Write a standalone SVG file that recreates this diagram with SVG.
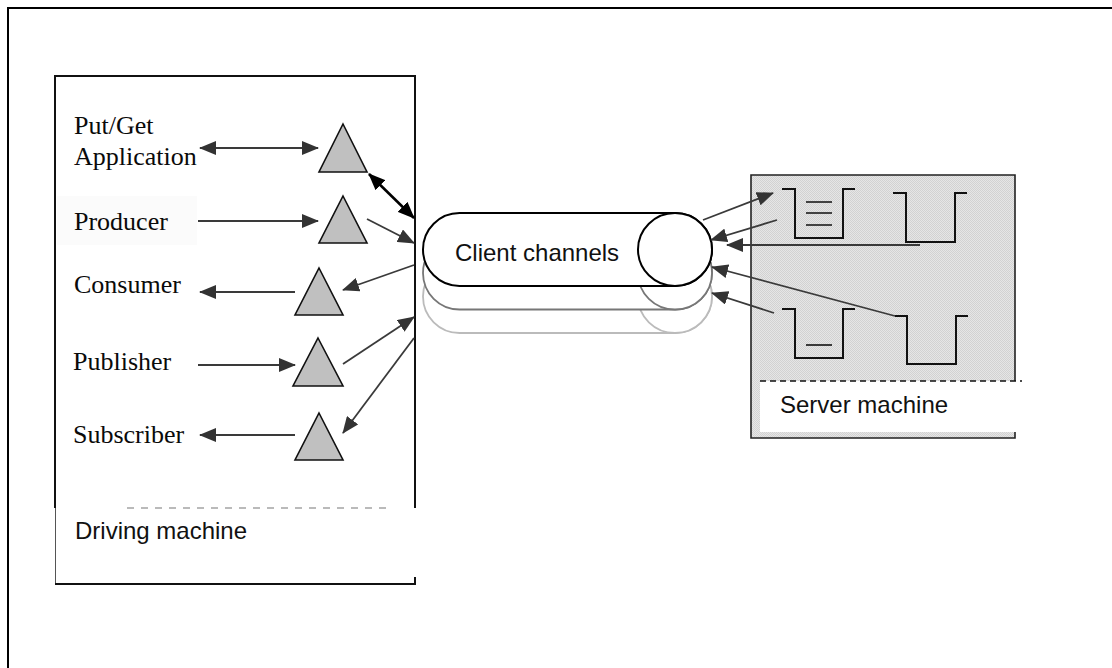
<svg xmlns="http://www.w3.org/2000/svg" width="1112" height="668" viewBox="0 0 1112 668">
  <style>
    .serif { font-family: "Liberation Serif", "Times New Roman", serif; font-size: 26px; fill: #0a0a0a; }
    .sans { font-family: "Liberation Sans", Arial, sans-serif; font-size: 24px; fill: #111; }
    .tri { fill: #c0c0c0; stroke: #111; stroke-width: 1.6; stroke-linejoin: miter; }
    .arr { fill: none; stroke: #3a3a3a; stroke-width: 1.8; marker-end: url(#head); }
    .arr2 { fill: none; stroke: #3a3a3a; stroke-width: 1.8; marker-start: url(#head); marker-end: url(#head); }
    .bold2 { fill: none; stroke: #000; stroke-width: 2.6; marker-start: url(#headBlack); marker-end: url(#headBlack); }
    .queue { fill: none; stroke: #111; stroke-width: 2; }
    .fill-line { stroke: #111; stroke-width: 1.6; }
  </style>
  <defs>
    <marker id="head" markerUnits="userSpaceOnUse" markerWidth="17" markerHeight="14" refX="16" refY="7" orient="auto-start-reverse">
      <path d="M0,0 L17,7 L0,14 z" fill="#333"/>
    </marker>
    <marker id="headBlack" markerUnits="userSpaceOnUse" markerWidth="17" markerHeight="14" refX="16" refY="7" orient="auto-start-reverse">
      <path d="M0,0 L17,7 L0,14 z" fill="#000"/>
    </marker>
    <!-- fine dither used as the server machine background -->
    <pattern id="dither" width="2" height="2" patternUnits="userSpaceOnUse">
      <rect width="2" height="2" fill="#e6e6e6"/>
      <rect width="1" height="1" fill="#d2d2d2"/>
      <rect x="1" y="1" width="1" height="1" fill="#d2d2d2"/>
    </pattern>
  </defs>

  <rect width="1112" height="668" fill="#fff"/>

  <!-- page frame (only top and left edges fall inside the view) -->
  <path d="M8,668 V8 H1112" fill="none" stroke="#000" stroke-width="2"/>

  <!-- driving machine -->
  <g id="driving-machine">
    <path d="M55,508 V76 H415 V508" fill="none" stroke="#111" stroke-width="2"/>
    <path d="M55.5,508 V584" fill="none" stroke="#555" stroke-width="1"/>
    <path d="M55,584 H415 V577" fill="none" stroke="#111" stroke-width="2"/>
    <path d="M127,508 H388" fill="none" stroke="#777" stroke-width="1.2" stroke-dasharray="7,7"/>
    <text class="sans" x="75" y="539">Driving machine</text>
  </g>

  <!-- server machine -->
  <g id="server-machine">
    <rect x="751" y="175" width="264" height="263" fill="url(#dither)"/>
    <path d="M1015,381 V175 H751 V438 H1015 V431" fill="none" stroke="#222" stroke-width="1.6"/>
    <rect x="760" y="381" width="262" height="51" fill="#fff"/>
    <path d="M760,381 H1022" fill="none" stroke="#111" stroke-width="1.4" stroke-dasharray="6,4"/>
    <text class="sans" x="780" y="413">Server machine</text>
  </g>

  <!-- queues -->
  <g id="queue-1">
    <path class="queue" d="M782,189 H795 V238 H843 V189 H855"/>
    <path class="fill-line" d="M806,202 H832 M806,213 H832 M806,225 H832"/>
  </g>
  <g id="queue-2">
    <path class="queue" d="M893,193 H906 V242 H955 V193 H967"/>
  </g>
  <g id="queue-3">
    <path class="queue" d="M782,309 H795 V358 H843 V309 H855"/>
    <path class="fill-line" d="M806,345 H832"/>
  </g>
  <g id="queue-4">
    <path class="queue" d="M895,316 H907 V364 H956 V316 H968"/>
  </g>

  <!-- client channels: stacked capsules, back to front -->
  <g id="client-channels">
    <rect x="423" y="260" width="289" height="73" rx="36.5" fill="#fff" stroke="#bbb" stroke-width="1.8"/>
    <ellipse cx="675" cy="296.5" rx="37" ry="36.5" fill="#fff" stroke="#bbb" stroke-width="1.8"/>
    <rect x="423" y="236.5" width="289" height="73" rx="36.5" fill="#fff" stroke="#777" stroke-width="1.8"/>
    <ellipse cx="675" cy="273" rx="37" ry="36.5" fill="#fff" stroke="#777" stroke-width="1.8"/>
    <rect x="423" y="213" width="289" height="73" rx="36.5" fill="#fff" stroke="#000" stroke-width="2"/>
    <ellipse cx="675" cy="249.5" rx="37" ry="36.5" fill="#fff" stroke="#000" stroke-width="2"/>
    <text class="sans" x="455" y="261">Client channels</text>
  </g>

  <!-- applications -->
  <g id="put-get">
    <text class="serif" x="74" y="134">Put/Get</text>
    <text class="serif" x="74" y="165">Application</text>
    <polygon class="tri" points="343,124 367,172 319,172"/>
  </g>
  <g id="producer">
    <rect x="57" y="196" width="140" height="49" fill="#fbfbfb"/>
    <text class="serif" x="74" y="230">Producer</text>
    <polygon class="tri" points="343,196 367,243 319,243"/>
  </g>
  <g id="consumer">
    <text class="serif" x="74" y="293">Consumer</text>
    <polygon class="tri" points="319,268 343,315 295,315"/>
  </g>
  <g id="publisher">
    <text class="serif" x="73" y="370">Publisher</text>
    <polygon class="tri" points="318,338 343,386 293,386"/>
  </g>
  <g id="subscriber">
    <text class="serif" x="73" y="443">Subscriber</text>
    <polygon class="tri" points="319,413 343,460 295,460"/>
  </g>

  <!-- connectors -->
  <g id="connectors">
    <path class="arr2" d="M200,148 H318"/>
    <path class="bold2" d="M369,174 L414,218"/>
    <path class="arr" d="M198,221 H318"/>
    <path class="arr" d="M367,219 L414,243"/>
    <path class="arr" d="M295,292 H200"/>
    <path class="arr" d="M414,265 L343,290"/>
    <path class="arr" d="M198,365 H295"/>
    <path class="arr" d="M343,364 L414,317"/>
    <path class="arr" d="M295,435 H200"/>
    <path class="arr" d="M414,338 L343,433"/>

    <path class="arr" d="M703,220 L773,193"/>
    <path class="arr" d="M777,220 L711,240"/>
    <path class="arr" d="M920,245 H727"/>
    <path class="arr" d="M895,316 L712,267"/>
    <path class="arr" d="M774,313 L712,293"/>
  </g>
</svg>
